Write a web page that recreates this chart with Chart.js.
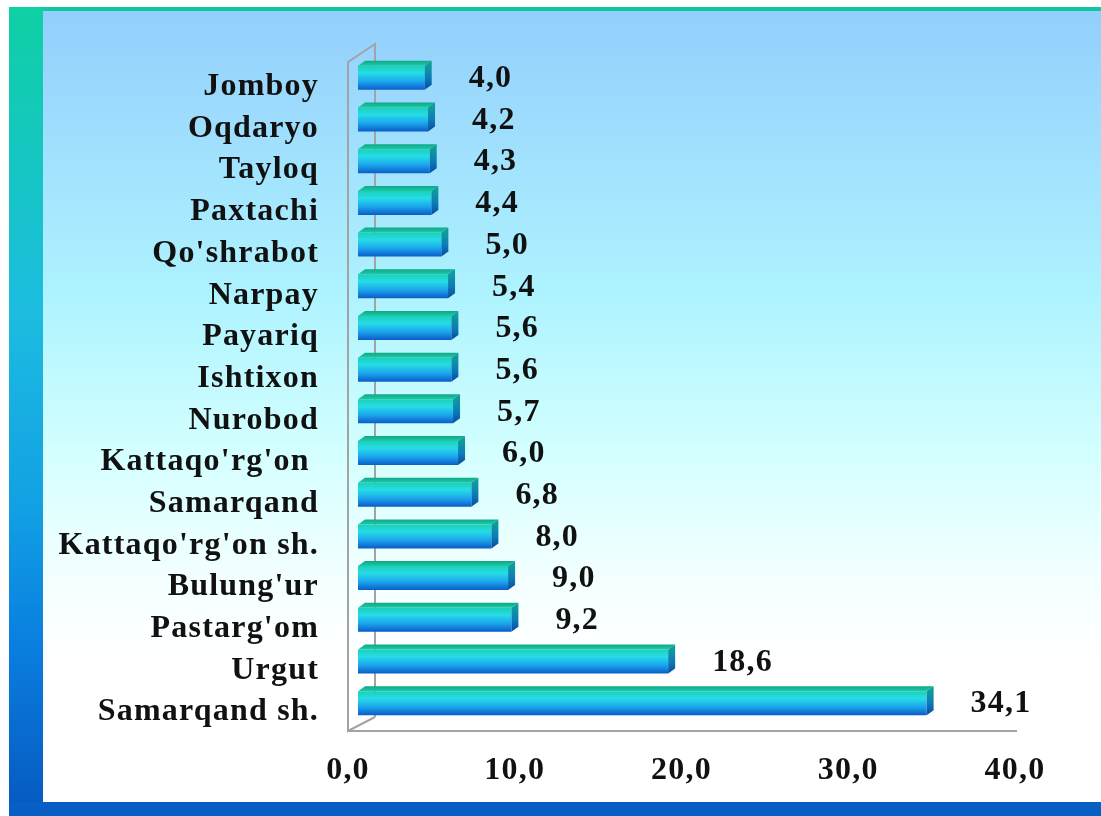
<!DOCTYPE html>
<html>
<head>
<meta charset="utf-8">
<script src="https://cdn.jsdelivr.net/npm/chart.js@4"></script>
<style>
  html, body { margin: 0; padding: 0; background: #fff; }
  canvas { display: block; }
</style>
</head>
<body>
<canvas id="districtchart" width="1101" height="816"></canvas>
<script>
var districts = ['Jomboy', 'Oqdaryo', 'Tayloq', 'Paxtachi', "Qo'shrabot", 'Narpay', 'Payariq', 'Ishtixon',
    'Nurobod', "Kattaqo'rg'on ", 'Samarqand', "Kattaqo'rg'on sh.", "Bulung'ur", "Pastarg'om", 'Urgut', 'Samarqand sh.'];
var shares = [4.0, 4.2, 4.3, 4.4, 5.0, 5.4, 5.6, 5.6, 5.7, 6.0, 6.8, 8.0, 9.0, 9.2, 18.6, 34.1];
var axisTicks = [0, 10, 20, 30, 40];

var fontFamily = "'Liberation Serif', 'Times New Roman', serif";
var shiftX = 10, shiftY = -7;   // bars sit a bit inside the 3d box
var depthX = 7, depthY = -5;    // bar top/side face
var barHalf = 12;

function fmt(v) {
    return v.toFixed(1).replace('.', ',');
}

function frontFill(c) {
    var chart = c.chart;
    if (!chart.chartArea) return '#1aa0e6';
    var y = chart.scales.y.getPixelForValue(c.dataIndex);
    var g = chart.ctx.createLinearGradient(0, y - barHalf, 0, y + barHalf);
    g.addColorStop(0, '#1ccfb8');
    g.addColorStop(0.3, '#26dce6');
    g.addColorStop(0.65, '#1ca6ee');
    g.addColorStop(1, '#0a5cc8');
    return g;
}

var backdrop = {
    id: 'backdrop',
    beforeDraw: function (chart) {
        var ctx = chart.ctx;
        ctx.save();
        ctx.fillStyle = '#ffffff';
        ctx.fillRect(0, 0, chart.width, chart.height);

        // inner panel
        var g = ctx.createLinearGradient(0, 11, 0, 803);
        g.addColorStop(0, '#93cffc');
        g.addColorStop(0.36, '#aef3ff');
        g.addColorStop(0.55, '#d2ffff');
        g.addColorStop(0.72, '#f4ffff');
        g.addColorStop(0.82, '#ffffff');
        g.addColorStop(1, '#ffffff');
        ctx.fillStyle = g;
        ctx.fillRect(43, 11, chart.width - 43, 792);

        // top strip
        ctx.fillStyle = '#10c8a0';
        ctx.fillRect(9, 7, chart.width - 9, 4);

        // left strip
        var lg = ctx.createLinearGradient(0, 7, 0, 816);
        lg.addColorStop(0, '#0fd0a4');
        lg.addColorStop(0.38, '#1cbce0');
        lg.addColorStop(0.62, '#12a0e4');
        lg.addColorStop(0.78, '#0a80e0');
        lg.addColorStop(1, '#0658c0');
        ctx.fillStyle = lg;
        ctx.fillRect(9, 7, 34, 809);

        // bottom strip
        ctx.fillStyle = '#075fc6';
        ctx.fillRect(9, 802, chart.width - 9, 14);
        ctx.restore();

        ctx.letterSpacing = '1.2px';
    },
    beforeDatasetsDraw: function (chart) {
        var ctx = chart.ctx;
        var a = chart.chartArea;
        var L = a.left, T = a.top, B = a.bottom;
        ctx.save();
        ctx.strokeStyle = '#a3a3a3';
        ctx.lineWidth = 2;
        ctx.beginPath();
        // back wall
        ctx.moveTo(L + 27, B - 14);
        ctx.lineTo(L + 27, T - 20);
        ctx.lineTo(L, T - 2);
        ctx.lineTo(L, B);
        ctx.lineTo(L + 27, B - 14);
        ctx.moveTo(L, B);
        ctx.lineTo(a.right + 2, B);
        ctx.stroke();
        ctx.restore();

        ctx.save();
        ctx.translate(shiftX, shiftY);
    },
    afterDatasetsDraw: function (chart) {
        var ctx = chart.ctx;
        var bars = chart.getDatasetMeta(0).data;
        bars.forEach(function (el) {
            var x0 = el.base, x1 = el.x;
            var yt = el.y - el.height / 2, yb = el.y + el.height / 2;

            var tg = ctx.createLinearGradient(0, yt + depthY, 0, yt);
            tg.addColorStop(0, '#0ea886');
            tg.addColorStop(1, '#1ccaa8');
            ctx.fillStyle = tg;
            ctx.beginPath();
            ctx.moveTo(x0, yt);
            ctx.lineTo(x0 + depthX, yt + depthY);
            ctx.lineTo(x1 + depthX, yt + depthY);
            ctx.lineTo(x1, yt);
            ctx.closePath();
            ctx.fill();

            var sg = ctx.createLinearGradient(0, yt, 0, yb);
            sg.addColorStop(0, '#0f9a9c');
            sg.addColorStop(0.5, '#0c7cb8');
            sg.addColorStop(1, '#064c9c');
            ctx.fillStyle = sg;
            ctx.beginPath();
            ctx.moveTo(x1, yt);
            ctx.lineTo(x1 + depthX, yt + depthY);
            ctx.lineTo(x1 + depthX, yb + depthY);
            ctx.lineTo(x1, yb);
            ctx.closePath();
            ctx.fill();
        });
        ctx.restore();

        ctx.save();
        ctx.font = 'bold 32px ' + fontFamily;
        ctx.fillStyle = '#111111';
        ctx.textAlign = 'left';
        ctx.textBaseline = 'middle';
        bars.forEach(function (el, i) {
            ctx.fillText(fmt(shares[i]), el.x + shiftX + 44, el.y + shiftY + 1);
        });
        ctx.restore();
    }
};

var chart = new Chart(document.getElementById('districtchart').getContext('2d'), {
    type: 'bar',
    data: {
        labels: districts,
        datasets: [{
            data: shares,
            backgroundColor: frontFill,
            borderWidth: 0,
            barPercentage: 0.575,
            categoryPercentage: 1
        }]
    },
    options: {
        indexAxis: 'y',
        responsive: false,
        animation: false,
        layout: {
            padding: { left: 0, top: 64, right: 86, bottom: 25 }
        },
        plugins: {
            legend: { display: false },
            tooltip: { enabled: false }
        },
        scales: {
            x: {
                type: 'linear',
                min: axisTicks[0],
                max: axisTicks[axisTicks.length - 1],
                afterBuildTicks: function (s) {
                    s.ticks = axisTicks.map(function (v) { return { value: v }; });
                },
                afterFit: function (s) { s.height = 60; },
                grid: { display: false, drawTicks: false },
                border: { display: false },
                ticks: {
                    padding: 21,
                    color: '#111111',
                    font: { family: fontFamily, size: 32, weight: 'bold' },
                    callback: function (v) { return fmt(v); }
                }
            },
            y: {
                afterFit: function (s) { s.width = 348; },
                grid: { display: false, drawTicks: false },
                border: { display: false },
                ticks: {
                    padding: 29,
                    labelOffset: 2,
                    color: '#111111',
                    font: { family: fontFamily, size: 32, weight: 'bold' }
                }
            }
        }
    },
    plugins: [backdrop]
});
</script>
</body>
</html>
